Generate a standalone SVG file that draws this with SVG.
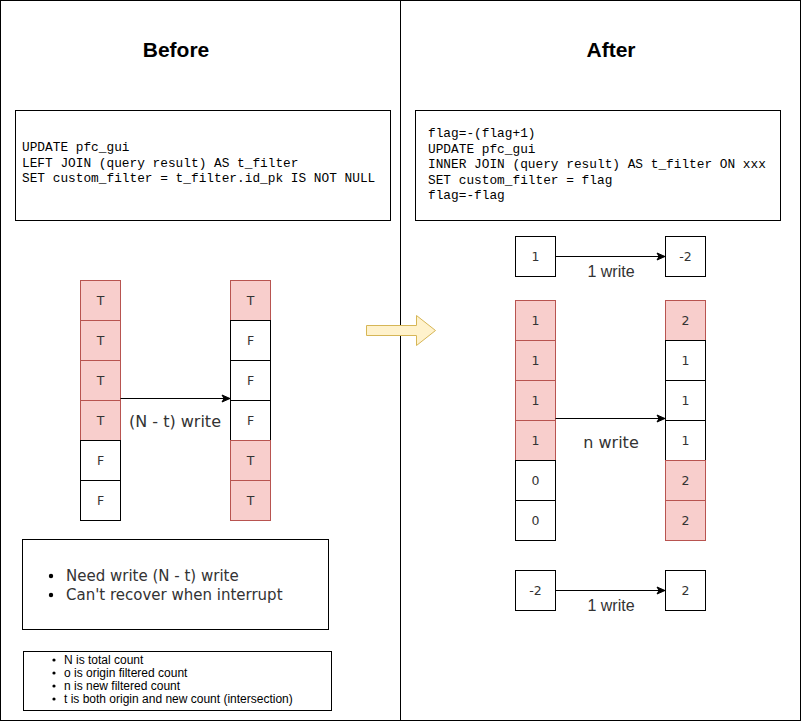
<svg xmlns="http://www.w3.org/2000/svg" width="801" height="722" viewBox="0 0 801 722">
<style>
.frame{fill:#fff;stroke:#000;stroke-width:1}
.box{fill:#fff;stroke:#000;stroke-width:1}
.red{fill:#f8cecc;stroke:#b85450;stroke-width:1}
.wht{fill:#fff;stroke:#000;stroke-width:1}
.cell{font-family:"DejaVu Sans",sans-serif;font-size:12.5px;fill:#333;text-anchor:middle}
.code{font-family:"Liberation Mono",monospace;font-size:12.8px;fill:#000}
.title{font-family:"Liberation Sans",Arial,sans-serif;font-size:21px;font-weight:bold;fill:#000;text-anchor:middle}
.lbl{font-family:"DejaVu Sans",sans-serif;font-size:16px;fill:#333;text-anchor:middle}
.lbl2{font-family:"Liberation Sans",Arial,sans-serif;font-size:16px;fill:#333;text-anchor:middle}
.bul{font-family:"DejaVu Sans",sans-serif;font-size:15px;fill:#333}
.leg{font-family:"Liberation Sans",Arial,sans-serif;font-size:12px;fill:#000}
.conn{stroke:#000;stroke-width:1;fill:none}
</style>
<defs>
<marker id="ah" markerWidth="10" markerHeight="10" refX="9" refY="5" orient="auto" markerUnits="userSpaceOnUse">
<path d="M1,1.5 L9,5 L1,8.5 L3,5 Z" fill="#000" stroke="#000" stroke-width="1"/>
</marker>
</defs>

<g id="panel-before"><rect class="frame" x="0.5" y="0.5" width="400" height="720"/></g>
<g id="panel-after"><rect class="frame" x="400.5" y="0.5" width="400" height="720"/></g>

<g id="title-before"><text class="title" x="176" y="57">Before</text></g>
<g id="title-after"><text class="title" x="611" y="57">After</text></g>

<g id="code-before">
<rect class="box" x="15.5" y="110.5" width="375" height="110"/>
<text class="code" x="22" y="151">UPDATE pfc_gui</text>
<text class="code" x="22" y="166.5">LEFT JOIN (query result) AS t_filter</text>
<text class="code" x="22" y="182">SET custom_filter = t_filter.id_pk IS NOT NULL</text>
</g>

<g id="code-after">
<rect class="box" x="415.5" y="110.5" width="365" height="110"/>
<text class="code" x="428" y="137">flag=-(flag+1)</text>
<text class="code" x="428" y="152.5">UPDATE pfc_gui</text>
<text class="code" x="428" y="168">INNER JOIN (query result) AS t_filter ON xxx</text>
<text class="code" x="428" y="183.5">SET custom_filter = flag</text>
<text class="code" x="428" y="199">flag=-flag</text>
</g>

<g id="before-origin">
<rect class="red" x="80.5" y="280.5" width="40" height="40"/><text class="cell" x="100.5" y="305">T</text>
<rect class="red" x="80.5" y="320.5" width="40" height="40"/><text class="cell" x="100.5" y="345">T</text>
<rect class="red" x="80.5" y="360.5" width="40" height="40"/><text class="cell" x="100.5" y="385">T</text>
<rect class="red" x="80.5" y="400.5" width="40" height="40"/><text class="cell" x="100.5" y="425">T</text>
<rect class="wht" x="80.5" y="440.5" width="40" height="40"/><text class="cell" x="100.5" y="465">F</text>
<rect class="wht" x="80.5" y="480.5" width="40" height="40"/><text class="cell" x="100.5" y="505">F</text>
</g>

<g id="before-new">
<rect class="red" x="230.5" y="280.5" width="40" height="40"/><text class="cell" x="250.5" y="305">T</text>
<rect class="wht" x="230.5" y="320.5" width="40" height="40"/><text class="cell" x="250.5" y="345">F</text>
<rect class="wht" x="230.5" y="360.5" width="40" height="40"/><text class="cell" x="250.5" y="385">F</text>
<rect class="wht" x="230.5" y="400.5" width="40" height="40"/><text class="cell" x="250.5" y="425">F</text>
<rect class="red" x="230.5" y="440.5" width="40" height="40"/><text class="cell" x="250.5" y="465">T</text>
<rect class="red" x="230.5" y="480.5" width="40" height="40"/><text class="cell" x="250.5" y="505">T</text>
</g>

<g id="after-flag-start"><rect class="wht" x="515.5" y="236.5" width="40" height="40"/><text class="cell" x="535.5" y="261">1</text></g>
<g id="after-flag-mid"><rect class="wht" x="665.5" y="236.5" width="40" height="40"/><text class="cell" x="685.5" y="261">-2</text></g>

<g id="after-origin">
<rect class="red" x="515.5" y="300.5" width="40" height="40"/><text class="cell" x="535.5" y="325">1</text>
<rect class="red" x="515.5" y="340.5" width="40" height="40"/><text class="cell" x="535.5" y="365">1</text>
<rect class="red" x="515.5" y="380.5" width="40" height="40"/><text class="cell" x="535.5" y="405">1</text>
<rect class="red" x="515.5" y="420.5" width="40" height="40"/><text class="cell" x="535.5" y="445">1</text>
<rect class="wht" x="515.5" y="460.5" width="40" height="40"/><text class="cell" x="535.5" y="485">0</text>
<rect class="wht" x="515.5" y="500.5" width="40" height="40"/><text class="cell" x="535.5" y="525">0</text>
</g>

<g id="after-new">
<rect class="red" x="665.5" y="300.5" width="40" height="40"/><text class="cell" x="685.5" y="325">2</text>
<rect class="wht" x="665.5" y="340.5" width="40" height="40"/><text class="cell" x="685.5" y="365">1</text>
<rect class="wht" x="665.5" y="380.5" width="40" height="40"/><text class="cell" x="685.5" y="405">1</text>
<rect class="wht" x="665.5" y="420.5" width="40" height="40"/><text class="cell" x="685.5" y="445">1</text>
<rect class="red" x="665.5" y="460.5" width="40" height="40"/><text class="cell" x="685.5" y="485">2</text>
<rect class="red" x="665.5" y="500.5" width="40" height="40"/><text class="cell" x="685.5" y="525">2</text>
</g>

<g id="after-flag-end-start"><rect class="wht" x="515.5" y="570.5" width="40" height="40"/><text class="cell" x="535.5" y="595">-2</text></g>
<g id="after-flag-end"><rect class="wht" x="665.5" y="570.5" width="40" height="40"/><text class="cell" x="685.5" y="595">2</text></g>

<g id="transition-arrow">
<path d="M366.5,325.5 H416.5 V315.5 L435.5,330.5 L416.5,345.5 V335.5 H366.5 Z" fill="#fff2cc" stroke="#d6b656" stroke-width="1"/>
</g>

<g id="connectors">
<line class="conn" x1="120.5" y1="398.5" x2="230" y2="398.5" marker-end="url(#ah)"/>
<line class="conn" x1="555.5" y1="256.5" x2="665" y2="256.5" marker-end="url(#ah)"/>
<line class="conn" x1="555.5" y1="418.5" x2="665" y2="418.5" marker-end="url(#ah)"/>
<line class="conn" x1="555.5" y1="590.5" x2="665" y2="590.5" marker-end="url(#ah)"/>
<text class="lbl" x="175" y="427">(N - t) write</text>
<text class="lbl2" x="611" y="277">1 write</text>
<text class="lbl" x="611" y="448">n write</text>
<text class="lbl2" x="611" y="611">1 write</text>
</g>

<g id="notes">
<rect class="box" x="22.5" y="539.5" width="306" height="90"/>
<circle cx="51" cy="576" r="2.2" fill="#000"/>
<text class="bul" x="66" y="581">Need write (N - t) write</text>
<circle cx="51" cy="595" r="2.2" fill="#000"/>
<text class="bul" x="66" y="600">Can't recover when interrupt</text>
</g>

<g id="legend">
<rect class="box" x="23.5" y="651.5" width="308" height="59"/>
<circle cx="54" cy="660" r="1.6" fill="#000"/><text class="leg" x="64" y="664">N is total count</text>
<circle cx="54" cy="673" r="1.6" fill="#000"/><text class="leg" x="64" y="677">o is origin filtered count</text>
<circle cx="54" cy="686" r="1.6" fill="#000"/><text class="leg" x="64" y="690">n is new filtered count</text>
<circle cx="54" cy="699" r="1.6" fill="#000"/><text class="leg" x="64" y="703">t is both origin and new count (intersection)</text>
</g>
</svg>
